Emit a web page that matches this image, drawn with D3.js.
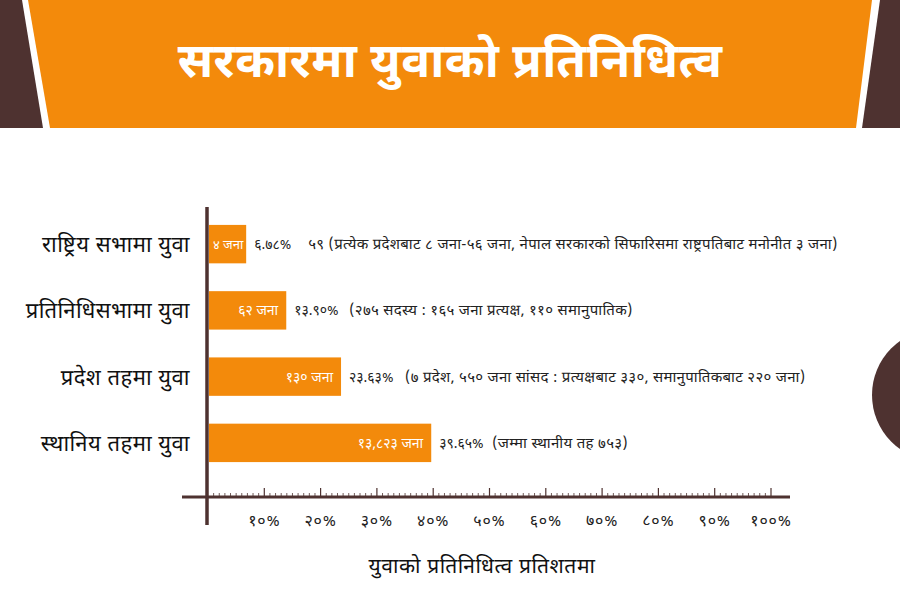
<!DOCTYPE html>
<html>
<head>
<meta charset="utf-8">
<script src="https://cdn.jsdelivr.net/npm/d3@7"></script>
<style>
  body { margin: 0; background: #fff; }
  svg { display: block; font-family: "Noto Sans Devanagari", "Lohit Devanagari", "Noto Sans", sans-serif; }
</style>
</head>
<body>
<script>
// chart size
const width = 900;
const height = 603;

// data
const categories = ["राष्ट्रिय सभामा युवा", "प्रतिनिधिसभामा युवा", "प्रदेश तहमा युवा", "स्थानिय तहमा युवा"];
const percents = [6.78, 13.90, 23.63, 39.65];
const youthCounts = [4, 62, 130, 13823];
const notes = [
  "५९ (प्रत्येक प्रदेशबाट ८ जना-५६ जना, नेपाल सरकारको सिफारिसमा राष्ट्रपतिबाट मनोनीत ३ जना)",
  "(२७५ सदस्य : १६५ जना प्रत्यक्ष, ११० समानुपातिक)",
  "(७ प्रदेश, ५५० जना सांसद : प्रत्यक्षबाट ३३०, समानुपातिकबाट २२० जना)",
  "(जम्मा स्थानीय तह ७५३)"
];
const noteOffsets = [54, 55, 56, 53]; // gap from bar end to note start
const tickValues = [10, 20, 30, 40, 50, 60, 70, 80, 90, 100];

const orange = "#f38a0b";
const brown = "#4e3230";

// arabic -> devanagari digits
const devaDigits = "०१२३४५६७८९";
const toDeva = s => String(s).replace(/[0-9]/g, c => devaDigits[+c]);

const svg = d3.select("body").append("svg")
  .attr("width", width)
  .attr("height", height);

// header banner
svg.append("path")
  .attr("d", "M0,0 L22,0 L43,128 L0,128 Z")
  .attr("fill", brown);
svg.append("path")
  .attr("d", "M900,0 L880,0 L862,128 L900,128 Z")
  .attr("fill", brown);
svg.append("path")
  .attr("d", "M28,0 L872,0 L856,128 L50,128 Z")
  .attr("fill", orange);

svg.append("text")
  .attr("x", 450)
  .attr("y", 77)
  .attr("text-anchor", "middle")
  .attr("fill", "#fff")
  .style("font-size", "48px")
  .style("font-weight", "bold")
  .style("letter-spacing", "0.5px")
  .text("सरकारमा युवाको प्रतिनिधित्व");

// half circle on the right
svg.append("circle")
  .attr("cx", 938)
  .attr("cy", 395)
  .attr("r", 66)
  .attr("fill", brown);

// scales
const x = d3.scaleLinear().domain([0, 100]).range([208, 771]);
const y = d3.scaleBand()
  .domain(categories)
  .range([211, 476])
  .paddingInner(0.42)
  .paddingOuter(0.21);

// minor + major ticks above the baseline
const axisY = 497;
const minor = d3.range(1, 101);
svg.append("g")
  .selectAll("line")
  .data(minor)
  .join("line")
  .attr("x1", d => x(d))
  .attr("x2", d => x(d))
  .attr("y1", axisY)
  .attr("y2", d => d % 10 === 0 ? axisY - 9 : axisY - 4)
  .attr("stroke", brown)
  .attr("stroke-width", d => d % 10 === 0 ? 1.2 : 0.8);

// axis lines
svg.append("line")
  .attr("x1", 182).attr("x2", 790)
  .attr("y1", axisY).attr("y2", axisY)
  .attr("stroke", brown)
  .attr("stroke-width", 3);
svg.append("line")
  .attr("x1", 207).attr("x2", 207)
  .attr("y1", 207).attr("y2", 525)
  .attr("stroke", brown)
  .attr("stroke-width", 3.5);

// tick labels
svg.append("g")
  .selectAll("text")
  .data(tickValues)
  .join("text")
  .attr("x", d => x(d))
  .attr("y", 526)
  .attr("text-anchor", "middle")
  .attr("fill", "#222")
  .style("font-size", "16px")
  .style("letter-spacing", "0.8px")
  .text(d => toDeva(d) + "%");

// axis title
svg.append("text")
  .attr("x", 482)
  .attr("y", 573)
  .attr("text-anchor", "middle")
  .attr("fill", "#111")
  .style("font-size", "21px")
  .style("letter-spacing", "0.6px")
  .text("युवाको प्रतिनिधित्व प्रतिशतमा");

// bars
const rows = categories.map((c, i) => ({
  cat: c, pct: percents[i], count: youthCounts[i], note: notes[i], off: noteOffsets[i]
}));

const row = svg.append("g")
  .selectAll("g")
  .data(rows)
  .join("g");

row.append("rect")
  .attr("x", x(0) + 1)
  .attr("y", d => y(d.cat))
  .attr("width", d => x(d.pct) - x(0) - 1)
  .attr("height", y.bandwidth())
  .attr("fill", orange);

// count label inside bar (centred when the bar is short)
const shortBar = d => x(d.pct) - x(0) < 50;
row.append("text")
  .attr("x", d => shortBar(d) ? (x(0) + x(d.pct)) / 2 + 1 : x(d.pct) - 8)
  .attr("y", d => y(d.cat) + y.bandwidth() / 2 + 5)
  .attr("text-anchor", d => shortBar(d) ? "middle" : "end")
  .attr("fill", "#fff")
  .style("font-size", d => shortBar(d) ? "13px" : "14px")
  .text(d => toDeva(d3.format(",")(d.count)) + " जना");

row.append("text")
  .attr("x", d => x(d.pct) + 8)
  .attr("y", d => y(d.cat) + y.bandwidth() / 2 + 5)
  .attr("fill", "#222")
  .style("font-size", "14px")
  .text(d => toDeva(d.pct.toFixed(2)) + "%");

row.append("text")
  .attr("x", d => x(d.pct) + d.off + 8)
  .attr("y", d => y(d.cat) + y.bandwidth() / 2 + 5)
  .attr("fill", "#222")
  .style("font-size", "15px")
  .style("letter-spacing", "0.3px")
  .text(d => d.note);

// category labels
svg.append("g")
  .selectAll("text")
  .data(categories)
  .join("text")
  .attr("x", 190)
  .attr("y", d => y(d) + y.bandwidth() / 2 + 8)
  .attr("text-anchor", "end")
  .attr("fill", "#111")
  .style("font-size", "22px")
  .style("letter-spacing", "0.5px")
  .text(d => d);
</script>
</body>
</html>
